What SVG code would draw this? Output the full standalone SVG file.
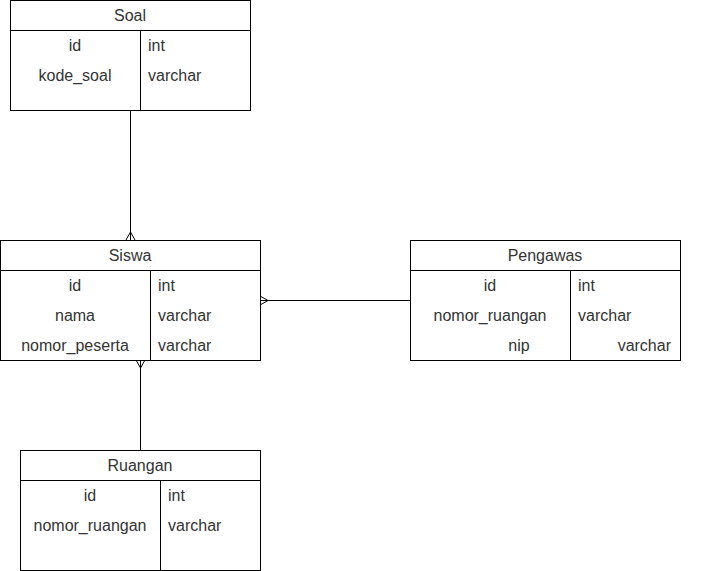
<svg xmlns="http://www.w3.org/2000/svg" width="721" height="571" viewBox="0 0 721 571">
  <style>
    .box { fill: #ffffff; stroke: #000000; stroke-width: 1; }
    .ln { stroke: #000000; stroke-width: 1; fill: none; }
    text { font-family: "Liberation Sans", Arial, Helvetica, sans-serif; font-size: 16px; fill: #333333; }
    .title { text-anchor: middle; }
    .key { text-anchor: middle; }
  </style>
  <defs>
    <!-- crow's foot "many" end: prongs meet the entity edge, apex sits outside -->
    <marker id="many" markerUnits="userSpaceOnUse" markerWidth="12" markerHeight="12" refX="0" refY="0" orient="auto" overflow="visible">
      <path d="M-8,0 L0,-4.5 M-8,0 L0,4.5" fill="none" stroke="#000000" stroke-width="1"/>
    </marker>
  </defs>

  <g id="soal">
    <rect class="box" x="10.5" y="0.5" width="240" height="110"/>
    <line class="ln" x1="10.5" y1="30.5" x2="250.5" y2="30.5"/>
    <line class="ln" x1="140.5" y1="30.5" x2="140.5" y2="110.5"/>
    <text class="title" x="130" y="21">Soal</text>
    <text class="key" x="75" y="51">id</text>
    <text class="key" x="75" y="81">kode_soal</text>
    <text x="148" y="51">int</text>
    <text x="148" y="81">varchar</text>
  </g>

  <g id="siswa">
    <rect class="box" x="0.5" y="240.5" width="260" height="120"/>
    <line class="ln" x1="0.5" y1="270.5" x2="260.5" y2="270.5"/>
    <line class="ln" x1="150.5" y1="270.5" x2="150.5" y2="360.5"/>
    <text class="title" x="130" y="261">Siswa</text>
    <text class="key" x="75" y="291">id</text>
    <text class="key" x="75" y="321">nama</text>
    <text class="key" x="75" y="351">nomor_peserta</text>
    <text x="158" y="291">int</text>
    <text x="158" y="321">varchar</text>
    <text x="158" y="351">varchar</text>
  </g>

  <g id="pengawas">
    <rect class="box" x="410.5" y="240.5" width="270" height="120"/>
    <line class="ln" x1="410.5" y1="270.5" x2="680.5" y2="270.5"/>
    <line class="ln" x1="570.5" y1="270.5" x2="570.5" y2="360.5"/>
    <text class="title" x="545" y="261">Pengawas</text>
    <text class="key" x="490" y="291">id</text>
    <text class="key" x="490" y="321">nomor_ruangan</text>
    <text class="key" x="519" y="351">nip</text>
    <text x="578" y="291">int</text>
    <text x="578" y="321">varchar</text>
    <text x="671" y="351" text-anchor="end">varchar</text>
  </g>

  <g id="ruangan">
    <rect class="box" x="20.5" y="450.5" width="240" height="120"/>
    <line class="ln" x1="20.5" y1="480.5" x2="260.5" y2="480.5"/>
    <line class="ln" x1="160.5" y1="480.5" x2="160.5" y2="570.5"/>
    <text class="title" x="140" y="471">Ruangan</text>
    <text class="key" x="90" y="501">id</text>
    <text class="key" x="90" y="531">nomor_ruangan</text>
    <text x="168" y="501">int</text>
    <text x="168" y="531">varchar</text>
  </g>

  <g id="connectors">
    <path class="ln" d="M130.5,110 L130.5,240" marker-end="url(#many)"/>
    <path class="ln" d="M410,300.5 L260,300.5" marker-end="url(#many)"/>
    <path class="ln" d="M140.5,450 L140.5,360" marker-end="url(#many)"/>
  </g>
</svg>
